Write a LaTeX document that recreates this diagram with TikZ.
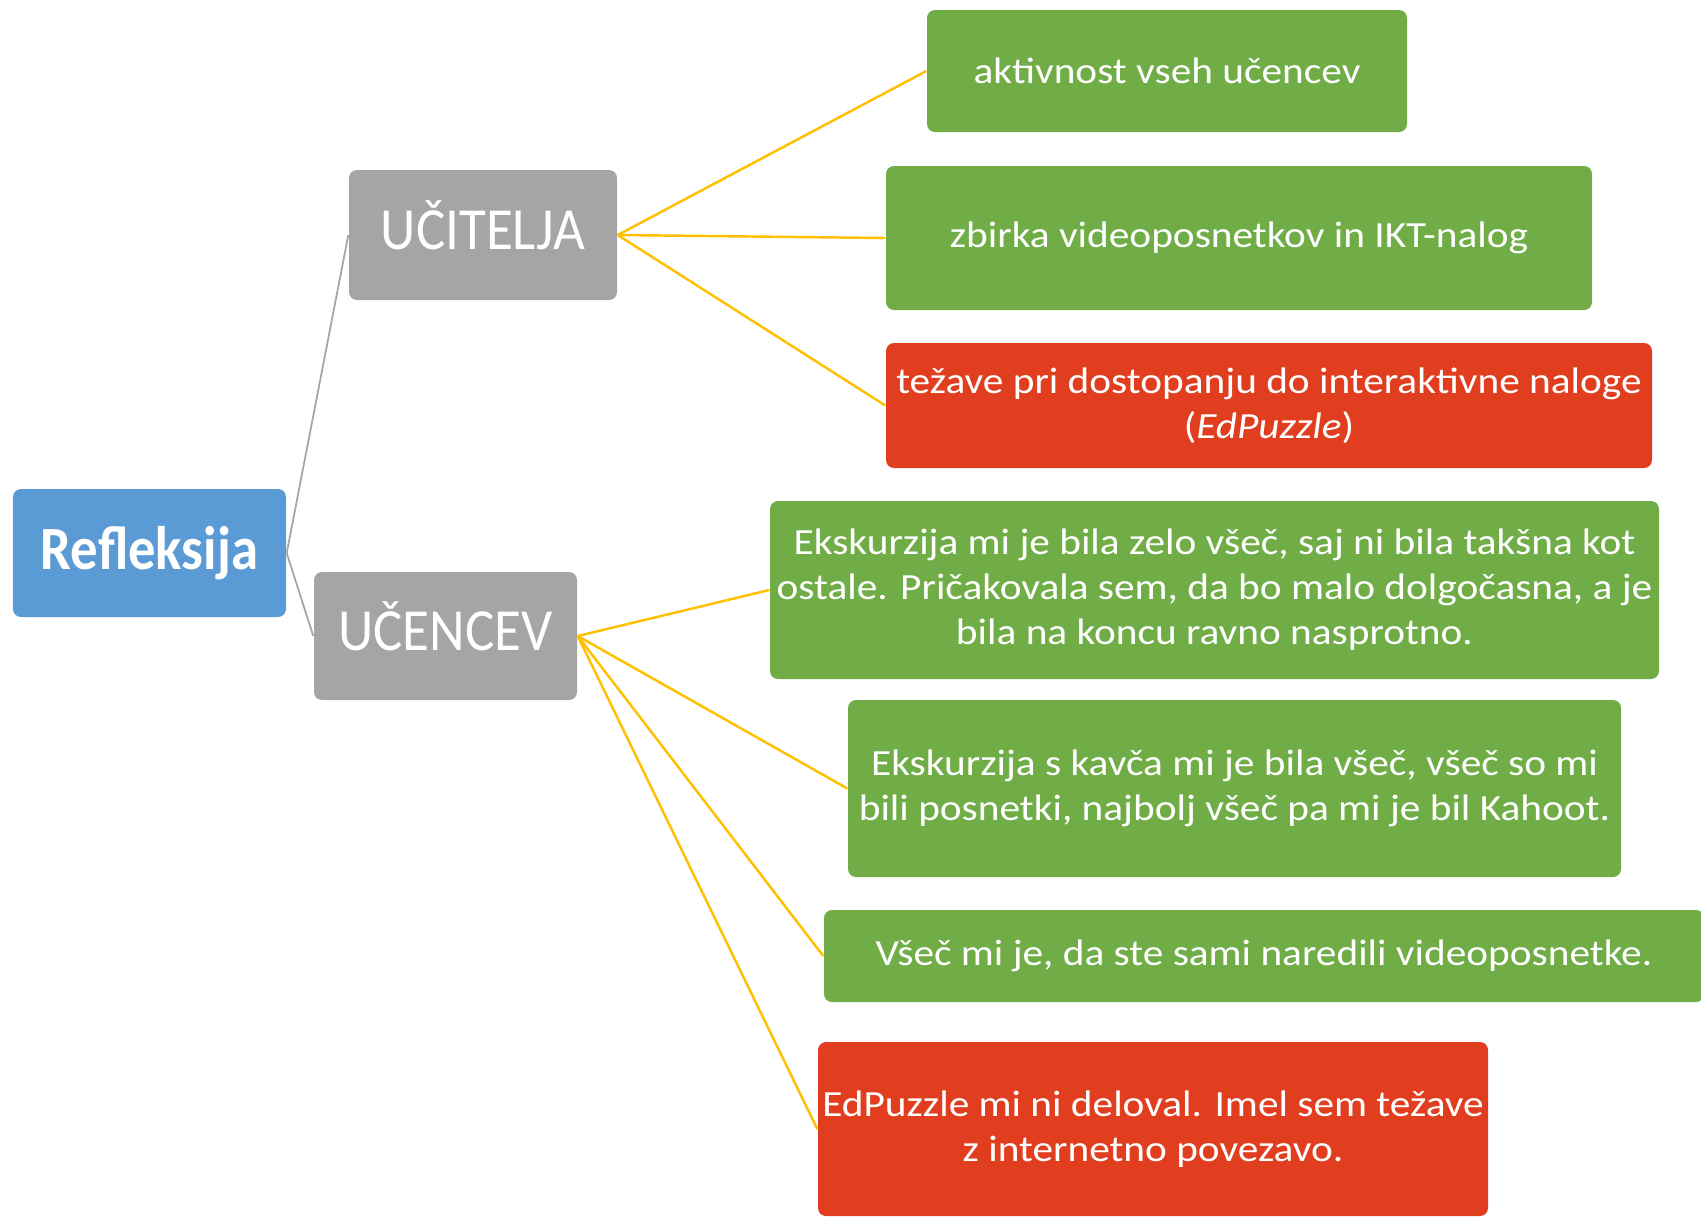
\documentclass[tikz,border=0pt]{standalone}
\usepackage{fontspec}
\setmainfont{Carlito}[FakeStretch=1.12]
\newfontfamily\headfont{Carlito}[FakeStretch=0.92]
\newfontfamily\rootfont{Carlito}[FakeStretch=0.89]
\definecolor{boxblue}{HTML}{5B9BD5}
\definecolor{boxgray}{HTML}{A5A5A5}
\definecolor{boxgreen}{HTML}{70AD47}
\definecolor{boxred}{HTML}{E03E1F}
\definecolor{lineyellow}{HTML}{FFC000}
\begin{document}
\begin{tikzpicture}[
		box/.style={rectangle,rounded corners=0.8mm,text=white,inner sep=0pt,align=center,font=\fontsize{10.5}{12.8}\selectfont},
		good/.style={box,fill=boxgreen},
		bad/.style={box,fill=boxred},
		who/.style={box,fill=boxgray,text height=8.4pt,text depth=0pt,font=\headfont\fontsize{17}{20}\selectfont},
		root/.style={box,fill=boxblue,font=\rootfont\fontsize{17.5}{20}\selectfont\bfseries},
		branch/.style={boxgray,line width=0.5pt},
		twig/.style={lineyellow,line width=0.7pt}]
			\useasboundingbox (0,0) rectangle (17.01,-12.18);
			\clip (0,0) rectangle (17.01,-12.18);
			%ROOT
			\node[root,minimum width=2.73cm,minimum height=1.28cm] (refl) at (1.495,-5.53) {Refleksija};
			\node[who,minimum width=2.68cm,minimum height=1.30cm] (ucit) at (4.83,-2.35) {UČITELJA};
			\node[who,minimum width=2.63cm,minimum height=1.28cm] (ucen) at (4.455,-6.36) {UČENCEV};
			%UCITELJA
			\node[good,minimum width=4.80cm,minimum height=1.22cm] (akt) at (11.67,-0.71) {aktivnost vseh učencev};
			\node[good,minimum width=7.06cm,minimum height=1.44cm] (zbir) at (12.39,-2.38) {zbirka videoposnetkov in IKT-nalog};
			\node[bad,minimum width=7.66cm,minimum height=1.25cm] (tez) at (12.69,-4.055) {težave pri dostopanju do interaktivne naloge\\(\textit{EdPuzzle})};
			%UCENCEV
			\node[good,minimum width=8.89cm,minimum height=1.78cm] (eks) at (12.145,-5.90) {Ekskurzija mi je bila zelo všeč, saj ni bila takšna kot\\ostale. Pričakovala sem, da bo malo dolgočasna, a je\\bila na koncu ravno nasprotno.};
			\node[good,minimum width=7.73cm,minimum height=1.77cm] (kavc) at (12.345,-7.885) {Ekskurzija s kavča mi je bila všeč, všeč so mi\\bili posnetki, najbolj všeč pa mi je bil Kahoot.};
			\node[good,minimum width=8.80cm,minimum height=0.92cm] (vsec) at (12.64,-9.56) {Všeč mi je, da ste sami naredili videoposnetke.};
			\node[bad,minimum width=6.70cm,minimum height=1.74cm] (edp) at (11.53,-11.29) {EdPuzzle mi ni deloval. Imel sem težave\\z internetno povezavo.};
			%LINES
			\draw[branch] (refl.east) -- (ucit.west);
			\draw[branch] (refl.east) -- (ucen.west);
			\foreach \n in {akt,zbir,tez} \draw[twig] (ucit.east) -- (\n.west);
			\foreach \n in {eks,kavc,vsec,edp} \draw[twig] (ucen.east) -- (\n.west);
		\end{tikzpicture}
\end{document}
